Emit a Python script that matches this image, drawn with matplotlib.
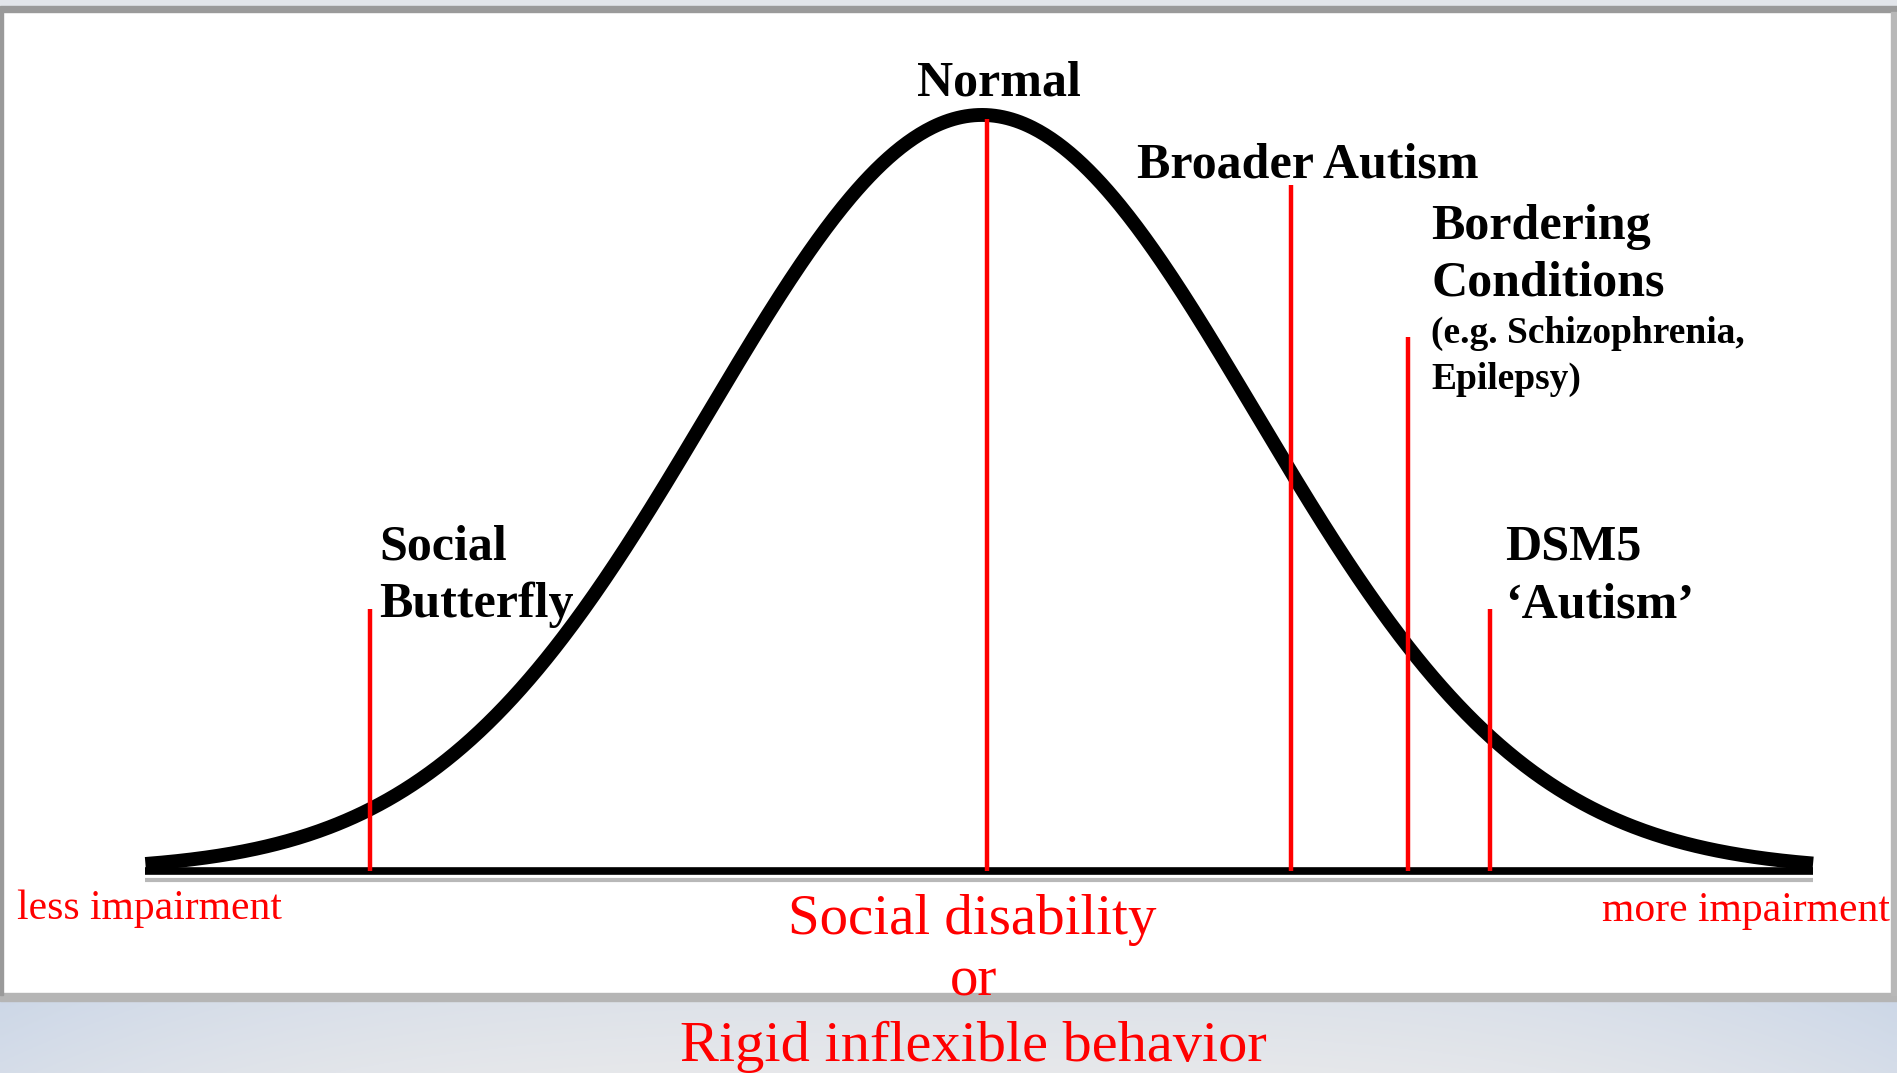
import numpy as np
import matplotlib
matplotlib.use("Agg")
import matplotlib.pyplot as plt
from matplotlib.patches import Rectangle

# ---- data ----
curve_mean = 0.0
curve_sd = 1.0
curve_range = [-3.06, 3.04]
marker_labels = ["Social Butterfly", "Normal", "Broader Autism", "Bordering Conditions", "DSM5 'Autism'"]
marker_z = [-2.24, 0.02, 1.13, 1.56, 1.86]
marker_top = [0.138, 0.397, 0.362, 0.282, 0.138]
axis_left_label = "less impairment"
axis_right_label = "more impairment"
axis_title = ["Social disability", "or", "Rigid inflexible behavior"]

W, H = 1897, 1073
fig = plt.figure(figsize=(W / 100, H / 100), dpi=100)
fig.patch.set_facecolor("white")

def fy(px_from_top):
    return 1 - (px_from_top + 4) / H

def fy0(px_from_top):
    return 1 - px_from_top / H

def fx(px):
    return px / W

# ---- frame decorations (figure coords) ----
bg = fig.add_axes([0, 0, 1, (H - 1000) / H], zorder=0)
gx = np.linspace(-1, 1, 400)
gy = np.linspace(0, 1, 60)
GX, GY = np.meshgrid(gx, gy)
t = np.clip(0.55 * np.abs(GX) ** 3 + 0.45 * (1 - GY) * 0.6, 0, 1)
c0 = np.array([0.905, 0.910, 0.920])
c1 = np.array([0.780, 0.830, 0.905])
img = c0[None, None, :] * (1 - t[..., None]) + c1[None, None, :] * t[..., None]
bg.imshow(img, aspect="auto", origin="upper", extent=[0, 1, 0, 1])
bg.set_axis_off()

fig.patches.append(Rectangle((0, fy0(1001)), 1, (1001 - 993) / H, transform=fig.transFigure,
                             color="#b5b5b5", zorder=1))
fig.patches.append(Rectangle((0, fy0(6)), 1, 6 / H, transform=fig.transFigure,
                             color="#e2e5ea", zorder=1))
fig.patches.append(Rectangle((0, fy0(12)), 1, 6 / H, transform=fig.transFigure,
                             color="#9a9a9a", zorder=1))
fig.patches.append(Rectangle((0, fy0(995)), fx(3), (995 - 12) / H, transform=fig.transFigure,
                             color="#9a9a9a", zorder=1))
fig.patches.append(Rectangle((fx(1891), fy0(995)), fx(6), (995 - 12) / H, transform=fig.transFigure,
                             color="#b8b8b8", zorder=1))

# ---- main axes ----
ax = fig.add_axes([0, 0, 1, 1], zorder=2)
ax.patch.set_alpha(0)
ax.set_xlim(-3.592, 3.347)
ax.set_ylim(-0.1066, 0.4596)
ax.set_axis_off()

x = np.linspace(curve_range[0], curve_range[1], 800)
y = np.exp(-0.5 * ((x - curve_mean) / curve_sd) ** 2) / (curve_sd * np.sqrt(2 * np.pi))

ax.plot(curve_range, [-0.0045, -0.0045], color="#b8b8b8", lw=3, solid_capstyle="butt", zorder=2)
ax.plot(curve_range, [0, 0], color="black", lw=5.5, solid_capstyle="butt", zorder=3)
ax.plot(x, y, color="black", lw=10, solid_capstyle="butt", zorder=3)

for xz, top in zip(marker_z, marker_top):
    ax.plot([xz, xz], [0.0, top], color="#ff0000", lw=3.2, solid_capstyle="butt", zorder=4)

serif = ["Liberation Serif", "DejaVu Serif"]
bold = dict(family=serif, fontweight="bold", color="black", fontsize=36)

fig.text(fx(999), fy(80), "Normal", ha="center", va="center", **bold, zorder=5)
fig.text(fx(1137), fy(161), "Broader Autism", ha="left", va="center", **bold, zorder=5)
fig.text(fx(1431), fy(223), "Bordering", ha="left", va="center", **bold, zorder=5)
fig.text(fx(1431), fy(279), "Conditions", ha="left", va="center", **bold, zorder=5)
fig.text(fx(1431), fy(329), "(e.g. Schizophrenia,", ha="left", va="center",
         family=serif, fontweight="bold", color="black", fontsize=27, zorder=5)
fig.text(fx(1431), fy(375), "Epilepsy)", ha="left", va="center",
         family=serif, fontweight="bold", color="black", fontsize=27, zorder=5)
fig.text(fx(379), fy(543), "Social", ha="left", va="center", **bold, zorder=5)
fig.text(fx(379), fy(601), "Butterfly", ha="left", va="center", **bold, zorder=5)
fig.text(fx(1505), fy(543), "DSM5", ha="left", va="center", **bold, zorder=5)
fig.text(fx(1505), fy(601), "\u2018Autism\u2019", ha="left", va="center", **bold, zorder=5)

red = dict(family=serif, color="#ff0000")
fig.text(fx(17), fy(905), axis_left_label, ha="left", va="center", fontsize=30, **red, zorder=5)
fig.text(fx(1890), fy(907), axis_right_label, ha="right", va="center", fontsize=30, **red, zorder=5)
fig.text(fx(972), fy(916), axis_title[0], ha="center", va="center", fontsize=41, **red, zorder=5)
fig.text(fx(974), fy(977), axis_title[1], ha="center", va="center", fontsize=41, **red, zorder=5)
fig.text(fx(973), fy(1043), axis_title[2], ha="center", va="center", fontsize=42, **red, zorder=5)

fig.savefig("out.png", dpi=100)
